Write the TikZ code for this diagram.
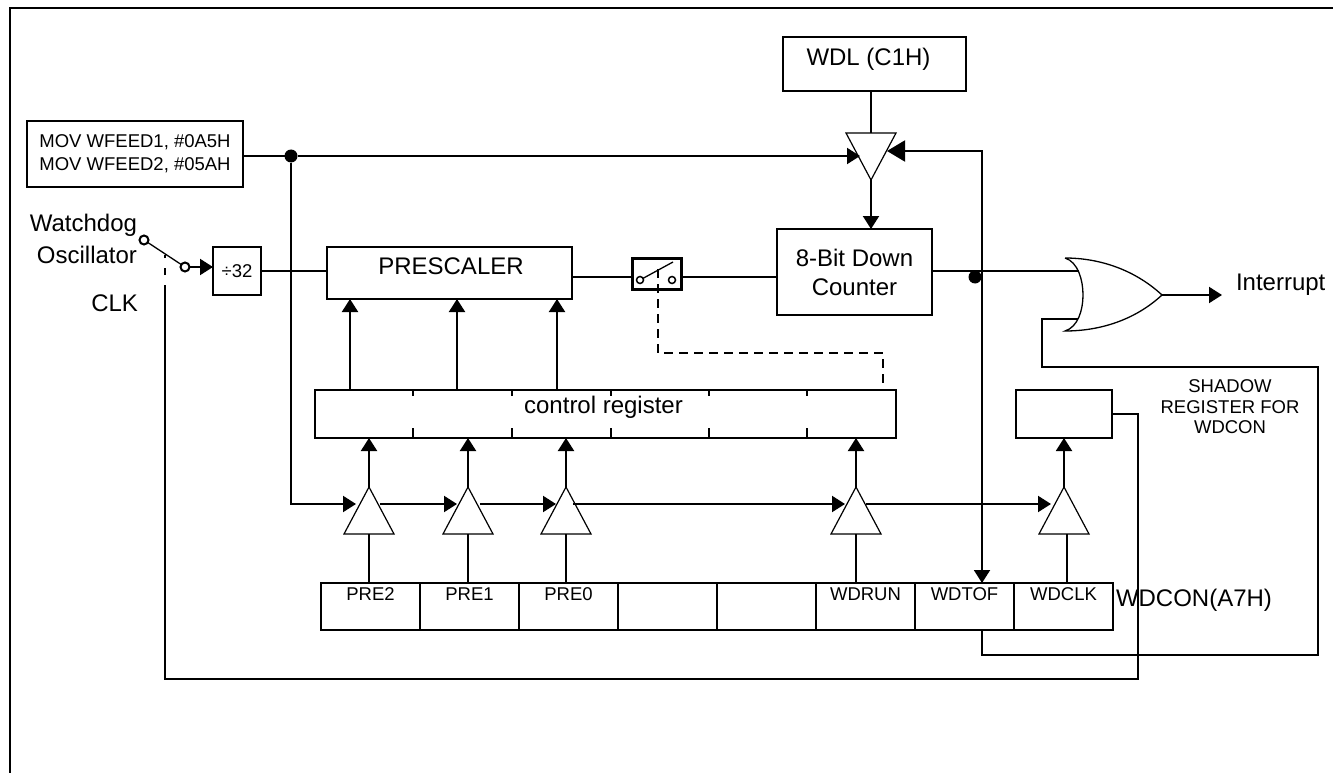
\documentclass[tikz,border=0pt]{standalone}
\usepackage{fontspec}
\setmainfont{Liberation Sans}
\usetikzlibrary{arrows.meta,positioning,shapes.geometric}
\newcommand{\bigtxt}{\fontsize{24}{29}\selectfont}
\newcommand{\smalltxt}{\fontsize{18.5}{20.5}\selectfont}
\begin{document}
\begin{tikzpicture}[x=1pt, y=-1pt, >={Triangle[length=13pt,width=16pt]},
  wire/.style={line width=2pt},
  every node/.style={align=center, inner sep=0pt, outer sep=0pt},
  blockbox/.style={draw, line width=2pt, font=\bigtxt},
  regcell/.style={draw, line width=2pt, font=\smalltxt, minimum width=99pt, minimum height=47pt, text height=14pt, text depth=27pt},
  bufup/.style={draw, fill=white, line width=1.2pt, isosceles triangle, isosceles triangle stretches, shape border rotate=90, minimum width=50pt, minimum height=47pt, anchor=apex},
  bufdown/.style={bufup, shape border rotate=270},
  joindot/.style={circle, fill=black, minimum size=13pt},
  contact/.style={circle, draw, fill=white, line width=2pt, minimum size=9pt}]
  \useasboundingbox (0,0) rectangle (1333,773);
  \draw[line width=2.2pt] (10,773) -- (10,8) -- (1333,8);

  \node[blockbox, font=\smalltxt, minimum width=216pt, minimum height=66pt] (feed) at (135,154) {MOV WFEED1, \#0A5H\\[2.5pt]MOV WFEED2, \#05AH};
  \node[blockbox, minimum width=183pt, minimum height=54pt, text height=20pt, text depth=17pt] (wdl) at (874.5,64) {WDL (C1H)\hspace{12pt}};
  \node[blockbox, font=\smalltxt, minimum width=48pt, minimum height=48pt] (div) at (237,271) {÷32};
  \node[blockbox, minimum width=245pt, minimum height=52pt, text height=17pt, text depth=15pt] (prescaler) at (449.5,273) {\hspace*{3pt}PRESCALER};
  \node[draw, line width=3pt, minimum width=49pt, minimum height=31pt] (swbox) at (656.5,273.5) {};
  \node[blockbox, minimum width=155pt, minimum height=86pt] (counter) at (854.5,272) {8-Bit Down\\Counter};
  \node[blockbox, minimum width=581pt, minimum height=48pt, text height=18pt, text depth=19pt] (ctrl) at (605.5,414) {control register\hspace{4pt}};
  \node[draw, line width=2pt, minimum width=96pt, minimum height=48pt] (shadow) at (1064,414) {};

  \node[regcell] (pre2) at (370.5,606.5) {PRE2};
  \node[regcell, right=0pt of pre2] (pre1) {PRE1};
  \node[regcell, right=0pt of pre1] (pre0) {PRE0};
  \node[regcell, right=0pt of pre0] (blanka) {};
  \node[regcell, right=0pt of blanka] (blankb) {};
  \node[regcell, right=0pt of blankb] (wdrun) {WDRUN};
  \node[regcell, right=0pt of wdrun] (wdtof) {WDTOF};
  \node[regcell, right=0pt of wdtof] (wdclk) {WDCLK};

  \node[bufdown] (bufwdl) at (871,180) {};
  \node[bufup] (bufpre2) at (369,487) {};
  \node[bufup] (bufpre1) at (468,487) {};
  \node[bufup] (bufpre0) at (566,487) {};
  \node[bufup] (bufrun) at (856,487) {};
  \node[bufup] (bufclk) at (1064,487) {};

  \node[joindot] (feedjoin) at (291,156) {};
  \node[joindot] (cntjoin) at (975,277) {};
  \node[contact] (swosc) at (144,240) {};
  \node[contact] (swout) at (185,267) {};
  \node[contact, line width=1.5pt, minimum size=7pt] (swl) at (640,280) {};
  \node[contact, line width=1.5pt, minimum size=7pt] (swr) at (672,280) {};

  \node[font=\bigtxt, anchor=east] (osclabel) at (137,225) {Watchdog};
  \node[font=\bigtxt, anchor=east] (osclabelb) at (137,255) {Oscillator};
  \node[font=\bigtxt, anchor=east] (clklabel) at (138,303) {CLK};
  \node[font=\bigtxt, anchor=west] (intlabel) at (1236,285) {Interrupt};
  \node[font=\bigtxt, anchor=west] (conlabel) at (1116,600) {WDCON(A7H)};
  \node[font=\smalltxt] (shadowlabel) at (1230,407) {SHADOW\\REGISTER FOR\\WDCON};

  \coordinate (wdlin) at (860,156);
  \coordinate (wdlback) at (887,151);
  \coordinate (tofin) at (982,583);
  \coordinate (tofout) at (982,630);
  \coordinate (shadowdrop) at (1318,655);
  \coordinate (orleft) at (1042,367);
  \coordinate (orfb) at (1078,319);
  \coordinate (orin) at (1079,271);
  \coordinate (orout) at (1162,295);
  \coordinate (intend) at (1222,295);
  \coordinate (clkdrop) at (1138,679);
  \coordinate (clkleft) at (165,679);
  \coordinate (clkup) at (165,292);
  \coordinate (clktop) at (165,255);
  \coordinate (bladeend) at (673,262);
  \coordinate (ctrldash) at (883,390);
  \coordinate (swdash) at (658,269);
  \coordinate (dashrow) at (658,353);
  \coordinate (swrow) at (700,277);
  \coordinate (tapa) at (350,390);
  \coordinate (tapb) at (457,390);
  \coordinate (tapc) at (557,390);
  \coordinate (ina) at (356,504);
  \coordinate (outa) at (380,504);
  \coordinate (inb) at (457,504);
  \coordinate (outb) at (480,504);
  \coordinate (inc) at (556,504);
  \coordinate (outc) at (573,504);
  \coordinate (ind) at (845,504);
  \coordinate (outd) at (866,504);
  \coordinate (ine) at (1051,504);
  \coordinate (clkstub) at (1067,534);

  \draw[wire] (feed.east |- feedjoin) -- (feedjoin);
  \draw[wire,->] (feedjoin) -- (wdlin);
  \draw[wire] (wdl.south -| bufwdl.apex) -- (bufwdl.lower side);
  \draw[wire,->] (bufwdl.apex) -- (bufwdl.apex |- counter.north);
  \draw[wire,{Triangle[length=18pt,width=21pt]}->] (wdlback) -| (tofin);
  \draw[wire] (div.east) -- (prescaler.west |- div.east);
  \draw[wire] (swbox.east |- swrow) -- (counter.west |- swrow);
  \draw[wire] (prescaler.east |- swrow) -- (swbox.west |- swrow);
  \draw[wire] (counter.east |- orin) -- (orin);
  \draw[wire] (orfb) -| (orleft) -| (shadowdrop) -| (tofout);
  \draw[wire,->] (orout) -- (intend);
  \draw[wire] (shadow.east) -| (clkdrop) -- (clkleft) -- (clkup);
  \draw[wire, dash pattern=on 7pt off 10pt] (clkup) -- (clktop);
  \draw[line width=1.3pt] (swosc) -- (swout);
  \draw[wire,->] (swout) -- (div.west |- swout);
  \draw[line width=1.3pt] (swl) -- (bladeend);
  \draw[wire, dash pattern=on 9pt off 6pt] (swdash) -- (dashrow) -| (ctrldash);
  \draw[wire,->] (tapa) -- (tapa |- prescaler.south);
  \draw[wire,->] (tapb) -- (tapb |- prescaler.south);
  \draw[wire,->] (tapc) -- (tapc |- prescaler.south);
  \draw[wire,->] (feedjoin) |- (ina);
  \draw[wire,->] (outa) -- (inb);
  \draw[wire,->] (outb) -- (inc);
  \draw[wire,->] (outc) -- (ind);
  \draw[wire,->] (outd) -- (ine);
  \draw[wire,->] (bufpre2.apex) -- (bufpre2.apex |- ctrl.south);
  \draw[wire,->] (bufpre1.apex) -- (bufpre1.apex |- ctrl.south);
  \draw[wire,->] (bufpre0.apex) -- (bufpre0.apex |- ctrl.south);
  \draw[wire,->] (bufrun.apex) -- (bufrun.apex |- ctrl.south);
  \draw[wire,->] (bufclk.apex) -- (bufclk.apex |- shadow.south);
  \draw[wire] (bufpre2.lower side) -- (bufpre2.lower side |- pre2.north);
  \draw[wire] (bufpre1.lower side) -- (bufpre1.lower side |- pre1.north);
  \draw[wire] (bufpre0.lower side) -- (bufpre0.lower side |- pre0.north);
  \draw[wire] (bufrun.lower side) -- (bufrun.lower side |- wdrun.north);
  \draw[wire] (clkstub) -- (clkstub |- wdclk.north);

  % or gate outline
  \draw[line width=1.3pt] (1065,258) .. controls (1100,258) and (1135,270) .. (orout) .. controls (1135,320) and (1100,331) .. (1065,331) .. controls (1078,327) and (1083,310) .. (1083,295) .. controls (1083,280) and (1078,262) .. (1065,258);

  % gaps in the control register
  \draw[wire] (413,390) -- ++(0,6) (512,390) -- ++(0,6) (611,390) -- ++(0,6) (709,390) -- ++(0,6) (807,390) -- ++(0,6);
  \draw[wire] (413,438) -- ++(0,-10) (512,438) -- ++(0,-10) (611,438) -- ++(0,-10) (709,438) -- ++(0,-10) (807,438) -- ++(0,-10);
\end{tikzpicture}
\end{document}
